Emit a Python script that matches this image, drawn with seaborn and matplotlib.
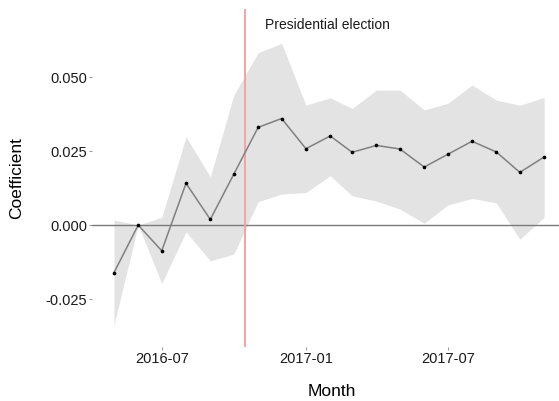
import matplotlib
matplotlib.use("Agg")
import matplotlib.pyplot as plt
import matplotlib.dates as mdates
import numpy as np
import pandas as pd
import seaborn as sns

# Monthly coefficient estimates with confidence band
months = pd.date_range("2016-05-01", "2017-11-01", freq="MS")
coef = [-0.0161, 0.0000, -0.0087, 0.0141, 0.0019, 0.0172, 0.0330, 0.0360,
        0.0258, 0.0301, 0.0246, 0.0269, 0.0257, 0.0196, 0.0239, 0.0283,
        0.0247, 0.0178, 0.0230]
upper = [0.0017, 0.0000, 0.0026, 0.0298, 0.0163, 0.0439, 0.0582, 0.0614,
         0.0405, 0.0430, 0.0394, 0.0456, 0.0456, 0.0389, 0.0411, 0.0473,
         0.0422, 0.0405, 0.0431]
lower = [-0.0338, 0.0000, -0.0197, -0.0023, -0.0121, -0.0098, 0.0079, 0.0105,
         0.0110, 0.0167, 0.0099, 0.0081, 0.0054, 0.0006, 0.0068, 0.0090,
         0.0075, -0.0048, 0.0026]

event_date = pd.Timestamp("2016-10-15")
event_label = "Presidential election"

x_ticks = pd.to_datetime(["2016-07-01", "2017-01-01", "2017-07-01"])
x_tick_labels = ["2016-07", "2017-01", "2017-07"]
y_ticks = [-0.025, 0.000, 0.025, 0.050]
y_tick_labels = ["-0.025", "0.000", "0.025", "0.050"]

df = pd.DataFrame({"month": months, "coef": coef, "upper": upper, "lower": lower})

sns.set_theme(style="white")
plt.rcParams["font.family"] = ["Liberation Sans", "DejaVu Sans"]

W, H = 559, 401
fig = plt.figure(figsize=(W / 100, H / 100), dpi=100)
ax = fig.add_axes([92 / W, 54 / H, (559 - 92) / W, (347 - 9.3) / H])

ax.fill_between(df["month"], df["lower"], df["upper"], color="#e3e3e3", lw=0, zorder=1)
ax.axhline(0, color="#7a7a7a", lw=1.0, zorder=2)
ax.axvline(event_date, color="#f5a3a3", lw=1.4, zorder=3)
sns.lineplot(data=df, x="month", y="coef", ax=ax, color="#808080", lw=1.1, zorder=4)
sns.scatterplot(data=df, x="month", y="coef", ax=ax, color="black", s=7,
                linewidth=0, zorder=5)

ax.annotate(event_label, xy=(event_date, 0.0676), xytext=(14.5, 0),
            textcoords="offset points", ha="left", va="center",
            fontsize=10, color="#1a1a1a")

ax.set_xlim(pd.Timestamp("2016-04-03"), pd.Timestamp("2017-11-20"))
ax.set_ylim(-0.0412, 0.0729)
ax.set_xticks(x_ticks)
ax.set_xticklabels(x_tick_labels)
ax.set_yticks(y_ticks)
ax.set_yticklabels(y_tick_labels)
ax.tick_params(axis="both", length=2, width=0.8, color="#9a9a9a", pad=1.5,
               labelsize=10.5, labelcolor="#1a1a1a", bottom=True, left=True)
for s in ax.spines.values():
    s.set_visible(False)
ax.grid(False)
ax.set_xlabel("")
ax.set_ylabel("")

fig.text(17 / W, 1 - 178 / H, "Coefficient", rotation=90, ha="center",
         va="center", fontsize=12.5, color="black")
fig.text(332 / W, 1 - 391 / H, "Month", ha="center", va="center",
         fontsize=12.5, color="black")

fig.savefig("out.png", dpi=100, facecolor="white")
